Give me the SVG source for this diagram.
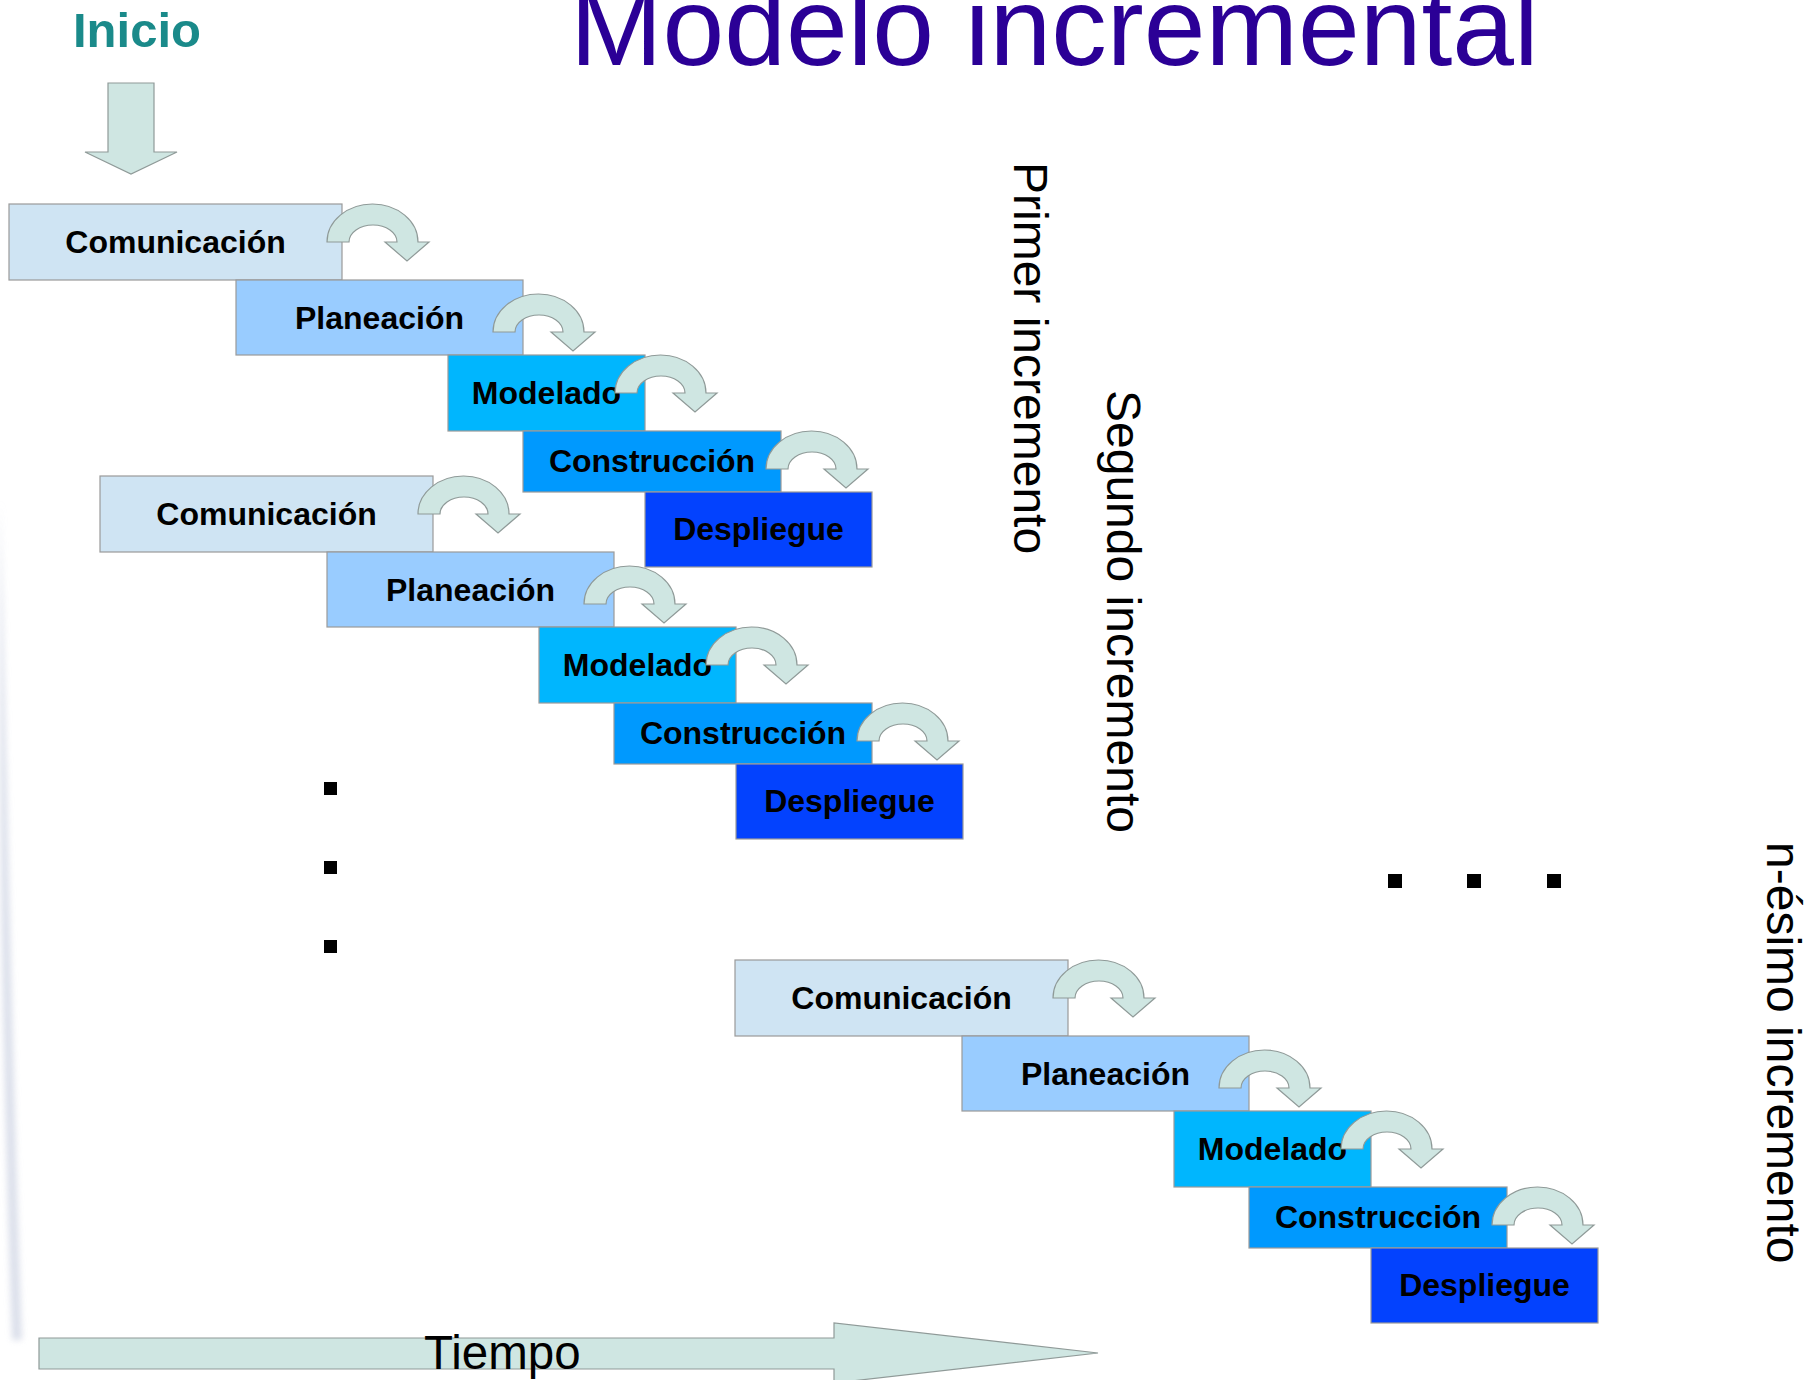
<svg xmlns="http://www.w3.org/2000/svg" width="1816" height="1380" viewBox="0 0 1816 1380">
  <defs>
    <style>
      .box { stroke: #9a9a9a; stroke-width: 1.2; }
      .com { fill: #cfe4f3; }
      .pla { fill: #99ccff; }
      .mod { fill: #00b6fe; }
      .con { fill: #0099fe; }
      .des { fill: #0342fe; }
      .lbl { font-family: "Liberation Sans", Arial, sans-serif; font-weight: bold; font-size: 32px; fill: #000; text-anchor: middle; }
      .flow { fill: #cfe6e2; stroke: #8f9a98; stroke-width: 1.2; }
      .side { font-family: "Liberation Sans", Arial, sans-serif; font-size: 48px; fill: #000; }
      .dot { fill: #000; }
    </style>
    <!-- curved hop arrow between consecutive phases -->
    <path id="hop" d="M0,38 A45.5,38 0 0 1 91,38 L102,38 L80,57 L58,38 L70,38 A24,17 0 0 0 22,38 Z"/>
    <filter id="soft" x="-50%" y="-10%" width="200%" height="120%">
      <feGaussianBlur stdDeviation="3"/>
    </filter>
  </defs>

  <rect width="1816" height="1380" fill="#ffffff"/>

  <!-- faint background streak at the left edge -->
  <path d="M0,500 C6,700 10,1000 22,1340 L12,1340 C4,1100 0,900 0,700 Z" fill="#d3d8e6" opacity="0.8" filter="url(#soft)"/>

  <!-- headings -->
  <text x="570" y="65" font-family="'Liberation Sans', Arial, sans-serif" font-size="111" fill="#2b0096">Modelo incremental</text>
  <text x="73" y="47" font-family="'Liberation Sans', Arial, sans-serif" font-size="49" font-weight="bold" fill="#1a8a8a">Inicio</text>

  <!-- start arrow -->
  <polygon class="flow" points="108,83 154,83 154,152 177,152 131,174 85,152 108,152"/>

  <!-- first increment -->
  <g id="inc1">
    <g id="inc1-comunicacion"><rect class="box com" x="9" y="204" width="333" height="76"/><text class="lbl" x="175.5" y="253">Comunicación</text></g>
    <g id="inc1-planeacion"><rect class="box pla" x="236" y="280" width="287" height="75"/><text class="lbl" x="379.5" y="329">Planeación</text></g>
    <g id="inc1-modelado"><rect class="box mod" x="448" y="355" width="197" height="76"/><text class="lbl" x="546.5" y="404">Modelado</text></g>
    <g id="inc1-construccion"><rect class="box con" x="523" y="431" width="258" height="61"/><text class="lbl" x="652" y="472">Construcción</text></g>
    <g id="inc1-despliegue"><rect class="box des" x="645" y="492" width="227" height="75"/><text class="lbl" x="758.5" y="540">Despliegue</text></g>
  </g>

  <!-- second increment -->
  <g id="inc2" transform="translate(91,272)">
    <g id="inc2-comunicacion"><rect class="box com" x="9" y="204" width="333" height="76"/><text class="lbl" x="175.5" y="253">Comunicación</text></g>
    <g id="inc2-planeacion"><rect class="box pla" x="236" y="280" width="287" height="75"/><text class="lbl" x="379.5" y="329">Planeación</text></g>
    <g id="inc2-modelado"><rect class="box mod" x="448" y="355" width="197" height="76"/><text class="lbl" x="546.5" y="404">Modelado</text></g>
    <g id="inc2-construccion"><rect class="box con" x="523" y="431" width="258" height="61"/><text class="lbl" x="652" y="472">Construcción</text></g>
    <g id="inc2-despliegue"><rect class="box des" x="645" y="492" width="227" height="75"/><text class="lbl" x="758.5" y="540">Despliegue</text></g>
  </g>

  <!-- n-th increment -->
  <g id="incn" transform="translate(726,756)">
    <g id="incn-comunicacion"><rect class="box com" x="9" y="204" width="333" height="76"/><text class="lbl" x="175.5" y="253">Comunicación</text></g>
    <g id="incn-planeacion"><rect class="box pla" x="236" y="280" width="287" height="75"/><text class="lbl" x="379.5" y="329">Planeación</text></g>
    <g id="incn-modelado"><rect class="box mod" x="448" y="355" width="197" height="76"/><text class="lbl" x="546.5" y="404">Modelado</text></g>
    <g id="incn-construccion"><rect class="box con" x="523" y="431" width="258" height="61"/><text class="lbl" x="652" y="472">Construcción</text></g>
    <g id="incn-despliegue"><rect class="box des" x="645" y="492" width="227" height="75"/><text class="lbl" x="758.5" y="540">Despliegue</text></g>
  </g>

  <!-- phase-to-phase hops -->
  <g id="connectors">
    <g id="hops1">
      <use href="#hop" class="flow" x="327" y="204"/>
      <use href="#hop" class="flow" x="493" y="294"/>
      <use href="#hop" class="flow" x="615" y="355"/>
      <use href="#hop" class="flow" x="766" y="431"/>
    </g>
    <g id="hops2" transform="translate(91,272)">
      <use href="#hop" class="flow" x="327" y="204"/>
      <use href="#hop" class="flow" x="493" y="294"/>
      <use href="#hop" class="flow" x="615" y="355"/>
      <use href="#hop" class="flow" x="766" y="431"/>
    </g>
    <g id="hopsn" transform="translate(726,756)">
      <use href="#hop" class="flow" x="327" y="204"/>
      <use href="#hop" class="flow" x="493" y="294"/>
      <use href="#hop" class="flow" x="615" y="355"/>
      <use href="#hop" class="flow" x="766" y="431"/>
    </g>
  </g>

  <!-- increment captions -->
  <text class="side" transform="translate(1014,162) rotate(90)">Primer incremento</text>
  <text class="side" transform="translate(1107,390) rotate(90)">Segundo incremento</text>
  <text class="side" transform="translate(1767,842) rotate(90)">n-ésimo incremento</text>

  <!-- ellipsis marks -->
  <g id="ellipsis-vertical">
    <rect class="dot" x="324" y="782" width="13" height="13"/>
    <rect class="dot" x="324" y="861" width="13" height="13"/>
    <rect class="dot" x="324" y="940" width="13" height="13"/>
  </g>
  <g id="ellipsis-horizontal">
    <rect class="dot" x="1388" y="874" width="14" height="14"/>
    <rect class="dot" x="1467" y="874" width="14" height="14"/>
    <rect class="dot" x="1547" y="874" width="14" height="14"/>
  </g>

  <!-- time axis -->
  <g id="time-axis">
    <polygon class="flow" points="39,1338 834,1338 834,1323 1098,1353 834,1383 834,1369 39,1369"/>
    <text x="424" y="1369" font-family="'Liberation Sans', Arial, sans-serif" font-size="47.5" fill="#000">Tiempo</text>
  </g>
</svg>
